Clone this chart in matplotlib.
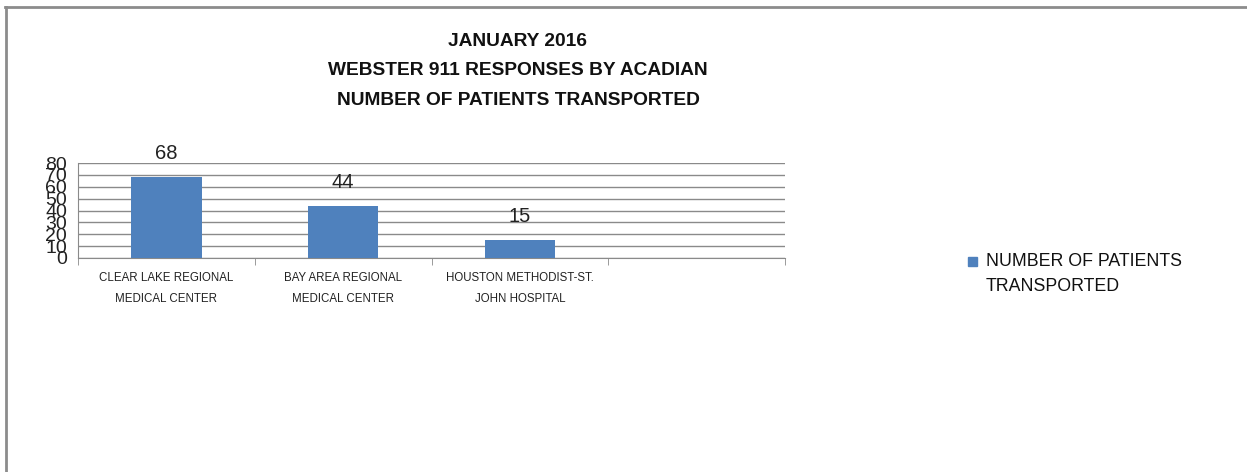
import matplotlib
matplotlib.use("Agg")
import matplotlib.pyplot as plt
from matplotlib.patches import Rectangle
from matplotlib.lines import Line2D

categories = ["CLEAR LAKE REGIONAL\nMEDICAL CENTER",
              "BAY AREA REGIONAL\nMEDICAL CENTER",
              "HOUSTON METHODIST-ST.\nJOHN HOSPITAL"]
values = [68, 44, 15]
series_name = "NUMBER OF PATIENTS\nTRANSPORTED"
title = "JANUARY 2016\nWEBSTER 911 RESPONSES BY ACADIAN\nNUMBER OF PATIENTS TRANSPORTED"
yticks = [0, 10, 20, 30, 40, 50, 60, 70, 80]
n_slots = 4

W, H = 1247, 472
fig = plt.figure(figsize=(W / 100, H / 100), dpi=100)
fig.patch.set_facecolor("white")

# outer chart border (top and left visible)
fig.add_artist(Line2D([5 / W, 1], [1 - 7 / H, 1 - 7 / H], color="#8c8c8c", lw=2, transform=fig.transFigure))
fig.add_artist(Line2D([6 / W, 6 / W], [0, 1 - 7 / H], color="#8c8c8c", lw=2, transform=fig.transFigure))

ax = fig.add_axes([78 / W, 1 - 258 / H, (785 - 78) / W, (258 - 163) / H])
color = "#4F81BD"
x = list(range(len(values)))
bars = ax.bar(x, values, width=0.4, color=color, zorder=3, label=series_name)
ax.set_xlim(-0.5, n_slots - 0.5)
ax.set_ylim(0, 80)
ax.set_yticks(yticks)
ax.set_yticklabels([str(v) for v in yticks], fontsize=14, fontfamily="Liberation Sans", color="#222222")
ax.yaxis.grid(True, color="#8a8a8a", lw=1, zorder=0)
ax.tick_params(axis="y", length=0, pad=8)
for s in ["top", "right"]:
    ax.spines[s].set_visible(False)
ax.spines["left"].set_color("#8a8a8a")
ax.spines["bottom"].set_color("#8a8a8a")

ax.set_xticks(x)
ax.set_xticklabels(categories, fontsize=8.3, fontfamily="Liberation Sans", color="#222222", linespacing=2.0)
ax.tick_params(axis="x", length=0, pad=10)
ax.set_xticks([i - 0.5 for i in range(n_slots + 1)], minor=True)
ax.tick_params(axis="x", which="minor", length=5, color="#8a8a8a", direction="out")

for b, v in zip(bars, values):
    ax.annotate(str(v), (b.get_x() + b.get_width() / 2, v), xytext=(0, 10), textcoords="offset points",
                ha="center", va="bottom", fontsize=14.5, fontfamily="Liberation Sans", color="#222222")

fig.text(518 / W, 1 - 71 / H, title, ha="center", va="center", fontsize=13.8, fontweight="bold",
         fontfamily="Liberation Sans", linespacing=1.95, color="#111111")

# legend: square beside first line of the series name
fig.add_artist(Rectangle((968 / W, 1 - 266 / H), 9 / W, 9 / H, color=color, transform=fig.transFigure))
fig.text(986 / W, 1 - 252.5 / H, series_name, ha="left", va="top", fontsize=12.8,
         fontfamily="Liberation Sans", linespacing=1.65, color="#111111")

fig.savefig("out.png", dpi=100, facecolor="white")
